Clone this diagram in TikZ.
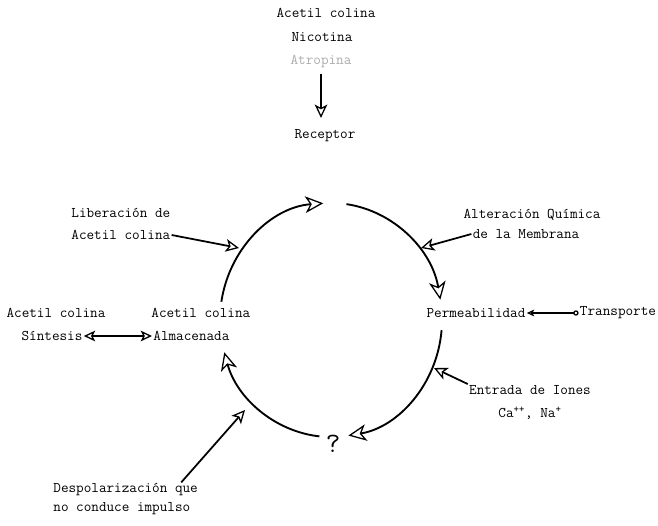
\documentclass[tikz,border=0pt]{standalone}
\usepackage{tikz}
\usetikzlibrary{arrows.meta, positioning, calc}

\begin{document}
\begin{tikzpicture}[x=0.03cm, y=0.03cm,
    lbl/.style={font=\fontsize{12.6}{14}\selectfont\ttfamily, inner sep=1pt},
    cyc/.style={line width=1.6pt, -{Stealth[open, length=5.4mm, width=5mm, inset=1.5mm, line width=1.1pt]}},
    ptr/.style={line width=1.5pt, -{Stealth[open, length=4mm, width=3.8mm, inset=1mm, line width=1.1pt]}},
    dbl/.style={line width=1.5pt, {Stealth[open, length=3.4mm, width=3.2mm, inset=0.8mm, line width=1.1pt]}-{Stealth[open, length=3.4mm, width=3.2mm, inset=0.8mm, line width=1.1pt]}}
]
    \useasboundingbox (0,0) rectangle (658,-526);

    % Agentes sobre el receptor
    \node[lbl] (acet) at (326,-13) {Acetil colina};
    \node[lbl] (nico) at (322,-37) {Nicotina};
    \node[lbl, text=gray!65] (atro) at (321,-62) {Atropina};
    \node[lbl] (recep) at (325,-136) {Receptor};
    \draw[ptr, shorten <=4pt, shorten >=9pt] (atro.south) -- (atro.south |- recep.north);

    % Ciclo
    \coordinate (ctr) at (331,-320);
    \draw[cyc] ($(ctr)+(171:111 and 117)$) arc[start angle=171, end angle=94, x radius=111, y radius=117];
    \draw[cyc] ($(ctr)+(82:111 and 117)$) arc[start angle=82, end angle=10, x radius=111, y radius=117];
    \draw[cyc] ($(ctr)+(-5:111 and 117)$) arc[start angle=-5, end angle=-81, x radius=111, y radius=117];
    \draw[cyc] ($(ctr)+(-96:111 and 117)$) arc[start angle=-96, end angle=-164, x radius=111, y radius=117];
    \node[font=\fontsize{24}{26}\selectfont\ttfamily] (qq) at (333,-444) {?};

    % Etiquetas alrededor
    \node[lbl, anchor=west] (lib1) at (70,-213) {Liberación de};
    \node[lbl, anchor=west] (lib2) at (70,-235) {Acetil colina};
    \coordinate (tlib) at (239,-248);
    \draw[ptr] (lib2.east) -- (tlib);

    \node[lbl] (alt1) at (532,-215) {Alteración Química};
    \node[lbl] (alt2) at (526,-234) {de la Membrana};
    \coordinate (talt) at (421,-248);
    \draw[ptr] (alt2.west) -- (talt);

    \node[lbl, anchor=west] (alm1) at (150,-313) {Acetil colina};
    \node[lbl, anchor=west] (alm2) at (152,-336) {Almacenada};
    \node[lbl] (sin1) at (56,-313) {Acetil colina};
    \node[lbl] (sin2) at (52,-336) {Síntesis};
    \draw[dbl] (sin2.east) -- (alm2.west);

    \node[lbl] (perm) at (476,-313) {Permeabilidad};
    \node[lbl] (trans) at (618,-313) {Transporte};
    \draw[line width=1.1pt, {Stealth[open, length=2.2mm, width=2mm, inset=0.5mm]}-{Circle[open, length=1.6mm]}] (perm.east) -- (trans.west);

    \node[lbl] (ent1) at (530,-390) {Entrada de Iones};
    \node[lbl] (ent2) at (530,-413) {Ca\textsuperscript{++}, Na\textsuperscript{+}};
    \coordinate (tent) at (434,-368);
    \draw[ptr] (ent1.north west) -- (tent);

    \node[lbl, anchor=west] (desp1) at (52,-490) {Despolarización que};
    \node[lbl, anchor=west] (desp2) at (52,-509) {no conduce impulso};
    \coordinate (tdesp) at (245,-410);
    \draw[ptr] ($(desp1.north east)+(-18,0)$) -- (tdesp);

\end{tikzpicture}
\end{document}
